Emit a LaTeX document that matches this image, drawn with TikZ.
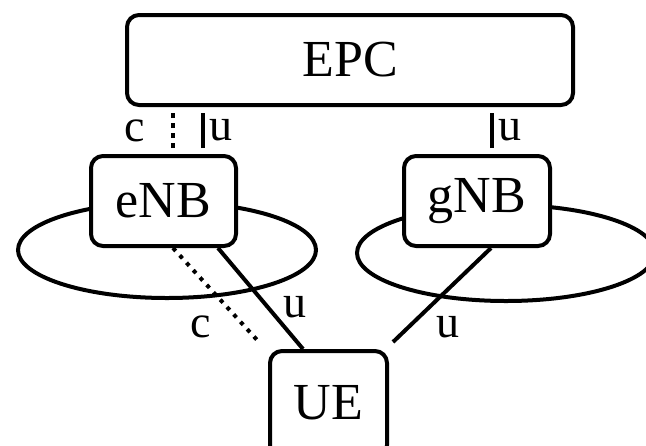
\documentclass[tikz,border=0pt]{standalone}
\usepackage{fontspec}
\setmainfont{Liberation Serif}
\usetikzlibrary{shapes.geometric}
\tikzstyle{box} = [rectangle, draw, fill=white, rounded corners=6pt, line width=2pt,
  minimum height=45pt, inner sep=0pt, font=\fontsize{26}{30}\selectfont]
\tikzstyle{cell} = [ellipse, draw, line width=2pt, minimum width=149pt,
  minimum height=48pt, inner sep=0pt]
\tikzstyle{link} = [draw, line width=2pt]
\tikzstyle{ctrl} = [draw, line width=2pt, dash pattern=on 2.5pt off 2.5pt]
\tikzstyle{lbl} = [font=\fontsize{23}{27}\selectfont, inner sep=1pt]

\begin{document}
\begin{tikzpicture}[node distance=70.5pt]
    \useasboundingbox (0,0) rectangle (323pt,-222.5pt);
    \clip (0,0) rectangle (323pt,-222.5pt);

    % coverage of the two base stations
    \node[cell] (enbcell) at (83.5pt,-125pt) {};
    \node[cell] (gnbcell) at (253pt,-126.5pt) {};

    \node[box, minimum width=223pt] (epc) at (175pt,-30pt) {EPC};
    \node[box, minimum width=72.5pt, below of=epc, xshift=-93.25pt] (enb) {eNB};
    \node[box, minimum width=73pt, below of=epc, xshift=63.5pt] (gnb) {gNB};
    \node[box, minimum width=58.5pt, minimum height=53pt, below of=epc,
      node distance=172pt, xshift=-10.75pt] (ue) {\raisebox{2pt}{UE}};

    \path[ctrl, shorten <=3pt, shorten >=3pt] ([xshift=4.75pt]enb.north)
      -- node[lbl, left=12pt] {c} ([xshift=4.75pt]enb.north |- epc.south);
    \path[link, shorten <=3pt, shorten >=3pt] ([xshift=19.75pt]enb.north)
      -- node[lbl, right=1pt] {u} ([xshift=19.75pt]enb.north |- epc.south);
    \path[link, shorten <=3pt, shorten >=3pt] ([xshift=7.5pt]gnb.north)
      -- node[lbl, right=1pt] {u} ([xshift=7.5pt]gnb.north |- epc.south);

    \path[link] ([xshift=27.25pt]enb.south)
      -- node[lbl, pos=0.59, right=5.5pt] {u} ([xshift=-12.75pt]ue.north);
    \path[ctrl, dash pattern=on 2pt off 3pt] ([xshift=4.75pt]enb.south)
      -- node[lbl, pos=0.845, left=15pt] {c} ([xshift=-35.25pt, yshift=4pt]ue.north);
    \path[link] ([xshift=7pt]gnb.south)
      -- node[lbl, pos=0.837, right=12pt] {u} ([xshift=2pt, yshift=3.5pt]ue.north east);
\end{tikzpicture}
\end{document}
